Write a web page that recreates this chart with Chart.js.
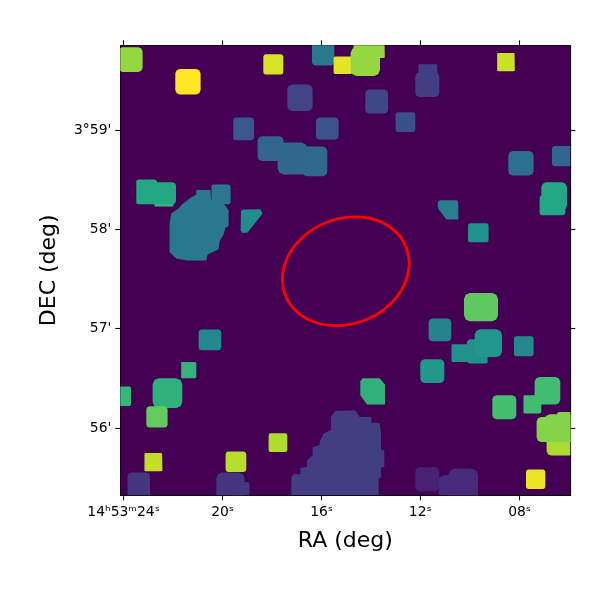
<!DOCTYPE html>
<html>
<head>
<meta charset="utf-8">
<style>body{margin:0;background:#fff}</style>
<script src="https://cdn.jsdelivr.net/npm/chart.js@4"></script>
</head>
<body>
<canvas id="myChart" width="600" height="600"></canvas>
<script>
// image axes: cutout pixels, x from the left edge, y from the top edge
const xTicks = [3.3, 102.3, 201.3, 300, 399.3];
const xTickLabels = ['14ʰ53ᵐ24ˢ', '20ˢ', '16ˢ', '12ˢ', '08ˢ'];
const yTicks = [85.3, 184, 283.3, 383.3];
const yTickLabels = ["3°59'", "58'", "57'", "56'"];

// rounded sources, painted in this order (those past 0 or 450 are cut by the frame)
const rectX0 = [-2, 55, 143, 112.7, 137.3, 157.3, 182, 191.7, 213.3, 230.3, 233, 167, 245, 195.7, 275.3, 298, 295, 376.7, 388, 431.7, 421, 419.3, 34, 15.7, 30, 91, 78.3, 347.7, 343.7, 308.3, 331, 346.7, 354.3, 393.7, 300, 414.3, 403, 372, 426.3, 416.3, 424, 436.7, 405.7, 295, 318.3, 328, 60.7, 32.3, -6, 26, 24, 105.3, 7.3, 96, 110, 148.3];
const rectX1 = [22.3, 80.3, 163, 133.7, 163.3, 187.3, 207, 214, 231.7, 259.7, 264.7, 192.3, 267.7, 218.3, 295, 317.3, 319, 394.7, 413.3, 456, 446.7, 445, 53.3, 37, 55.7, 110.3, 101, 368.3, 377.7, 331, 358, 367.7, 381.7, 413.3, 324, 440, 421, 396, 456, 456, 456, 456, 425, 319, 357.7, 357.7, 76, 62, 10.7, 47.3, 42.3, 126, 29.7, 124.3, 129.3, 167];
const rectY0 = [2, 23.7, 9, 72.3, 91, 97.3, 101.3, -6, 11.3, 1.7, -6, 39.3, 44.3, 72.3, 67, 19, 27, 7.7, 105.7, 100.7, 137, 150, 155, 134.3, 137, 139.3, 284.3, 178, 247.7, 273.3, 299, 294, 284, 291, 314, 331.7, 350, 350, 385, 371.7, 369, 366.7, 424.3, 422, 430, 423.3, 316.7, 333, 341.3, 361, 407.7, 406.3, 427.3, 427.3, 436.7, 388];
const rectY1 = [26.7, 49.3, 29.3, 95, 115.7, 129.3, 131, 20.3, 28.7, 30.7, 12.7, 65.7, 68.3, 94.3, 86.7, 35, 51.7, 26, 130.3, 121, 165, 170, 161.3, 159, 159, 159, 305, 197, 276, 296, 316.7, 318.3, 311.7, 311, 337.7, 359.3, 368.3, 374, 410.3, 396.7, 396.7, 396.7, 443.7, 446, 456, 456, 333, 362.7, 360.7, 382.3, 426, 426.7, 456, 456, 456, 406.7];
const rectLevel = [0.84, 1, 0.94, 0.27, 0.32, 0.33, 0.34, 0.4, 0.96, 0.84, 0.84, 0.2, 0.21, 0.25, 0.24, 0.18, 0.18, 0.92, 0.36, 0.33, 0.6, 0.6, 0.68, 0.6, 0.6, 0.4, 0.47, 0.5, 0.75, 0.44, 0.5, 0.5, 0.52, 0.47, 0.53, 0.69, 0.69, 0.7, 0.87, 0.815, 0.815, 0.815, 0.97, 0.09, 0.12, 0.12, 0.65, 0.64, 0.66, 0.76, 0.905, 0.89, 0.16, 0.16, 0.16, 0.88];

// irregular sources
const bigTealX = [76, 90, 91, 101.7, 108.3, 108.3, 105, 103.3, 99.3, 98.3, 87.3, 86, 66.7, 55.7, 49.3, 49.3, 51, 58.3, 61.7, 70, 76];
const bigTealY = [144.7, 144.7, 155, 156, 165, 180.7, 182.7, 189.3, 196, 204, 209.3, 215.3, 215.3, 213.3, 206.7, 178.3, 168.3, 163.3, 159.3, 152.7, 149.3];
const wedgeX = [120.7, 122.7, 140, 142.3, 127.3, 122, 120.3];
const wedgeY = [166, 164.3, 164, 168.3, 187.3, 187.7, 185];
const notchX = [317.3, 319.3, 336.7, 338, 338, 326, 317.7];
const notchY = [157.3, 155, 155, 157.3, 174.3, 174.3, 163.3];
const cutX = [240, 242.3, 259.3, 264.7, 264.7, 246.7, 240];
const cutY = [336, 333, 333, 339.3, 359.3, 359.3, 350];
const bigPurpleX = [171, 171, 173.3, 180, 180, 186, 186.7, 192.3, 192.3, 199.3, 199.3, 203.3, 210.7, 210.7, 215, 235, 239.3, 251, 251, 259.3, 260.7, 260.7, 264, 264, 260.7, 260.7, 258.3, 258.3];
const bigPurpleY = [450.3, 431.7, 429, 429, 422.7, 421.7, 415, 410, 401.7, 400, 396.7, 388.3, 385, 371.7, 365.7, 365, 371.7, 371.7, 377.3, 377.7, 387.3, 405, 405, 421.7, 422.7, 431.7, 433.3, 450.3];
const polyX = [bigTealX, wedgeX, notchX, cutX, bigPurpleX];
const polyY = [bigTealY, wedgeY, notchY, cutY, bigPurpleY];
const polyLevel = [0.4, 0.48, 0.42, 0.64, 0.18];

// red aperture, going round with a small overlap so the join is smooth
const ellipseX = [286.8, 289, 286.8, 280.5, 270.4, 257.3, 241.9, 225.5, 209.1, 193.8, 180.6, 170.5, 164.2, 162, 164.2, 170.5, 180.6, 193.8, 209.1, 225.5, 241.9, 257.3, 270.4, 280.5, 286.8, 289, 286.8];
const ellipseY = [204.3, 218, 232.2, 246, 258.5, 268.7, 276, 279.9, 280.1, 276.7, 269.8, 259.9, 247.7, 234, 219.8, 206, 193.6, 183.3, 176, 172.1, 171.9, 175.3, 182.2, 192.1, 204.3, 218, 232.2];

const viridis = [[68,1,84],[72,36,117],[65,68,135],[53,95,141],[42,120,142],[33,145,140],[34,168,132],[68,191,112],[122,209,81],[189,223,38],[253,231,37]];

function levelColor(v){
    const p = Math.min(v * 10, 9.999);
    const i = Math.floor(p);
    const c = viridis[i].map((a, k) => Math.round(a + (viridis[i + 1][k] - a) * (p - i)));
    return `rgb(${c[0]},${c[1]},${c[2]})`;
}

function area(points, level){
    return {
        data: points,
        showLine: true,
        fill: 'shape',
        backgroundColor: levelColor(level),
        borderColor: levelColor(level),
        borderWidth: 0,
        pointRadius: 0
    };
}

// small sources have tighter corners than big ones
function rounded(x0, x1, y0, y1){
    const r = Math.max(1.5, Math.min(6, (Math.min(x1 - x0, y1 - y0) - 14) * 0.4));
    const k = r * 0.3;
    return [
        {x: x0 + r, y: y0}, {x: x1 - r, y: y0}, {x: x1 - k, y: y0 + k}, {x: x1, y: y0 + r},
        {x: x1, y: y1 - r}, {x: x1 - k, y: y1 - k}, {x: x1 - r, y: y1}, {x: x0 + r, y: y1},
        {x: x0 + k, y: y1 - k}, {x: x0, y: y1 - r}, {x: x0, y: y0 + r}, {x: x0 + k, y: y0 + k}
    ];
}

function pairs(xs, ys){
    return xs.map((x, i) => ({x: x, y: ys[i]}));
}

const datasets = [area(pairs([0, 450, 450, 0], [0, 0, 450, 450]), 0)];
rectX0.forEach((x0, i) => {
    datasets.push(area(rounded(x0, rectX1[i], rectY0[i], rectY1[i]), rectLevel[i]));
});
polyX.forEach((xs, i) => {
    datasets.push(area(pairs(xs, polyY[i]), polyLevel[i]));
});
datasets.push({
    data: pairs(ellipseX, ellipseY),
    showLine: true,
    fill: false,
    tension: 0.4,
    borderColor: '#ff0000',
    borderWidth: 2.8,
    pointRadius: 0
});
// chart.js paints the last dataset first
datasets.reverse();

const tickFont = {family: 'DejaVu Sans', size: 13.9};
const titleFont = {family: 'DejaVu Sans', size: 22};

function axis(position, list, labels, size, extra){
    return Object.assign({
        type: 'linear',
        position: position,
        display: true,
        min: 0,
        max: 450,
        afterBuildTicks: s => { s.ticks = list.map(v => ({value: v})); },
        afterFit: s => {
            if (s.isHorizontal()) s.height = size; else s.width = size;
        },
        border: {display: true, color: '#000', width: 1.1},
        grid: {drawOnChartArea: false, drawTicks: true, tickLength: 5, tickColor: '#000', tickWidth: 1.1},
        ticks: {
            display: labels !== null,
            autoSkip: false,
            maxRotation: 0,
            color: '#000',
            font: tickFont,
            padding: 4,
            callback: (v, i) => labels ? labels[i] : ''
        }
    }, extra || {});
}

new Chart(document.getElementById('myChart').getContext('2d'), {
    type: 'scatter',
    data: {datasets: datasets},
    options: {
        responsive: false,
        animation: false,
        devicePixelRatio: 1,
        layout: {padding: 0},
        plugins: {legend: {display: false}, tooltip: {enabled: false}},
        scales: {
            x: axis('bottom', xTicks, xTickLabels, 104.7, {
                title: {display: true, text: 'RA (deg)', color: '#000', font: titleFont, padding: {top: 0, bottom: 46}}
            }),
            y: axis('left', yTicks, yTickLabels, 120.3, {
                reverse: true,
                title: {display: true, text: 'DEC (deg)', color: '#000', font: titleFont, padding: {top: 36, bottom: 0}}
            }),
            xTop: axis('top', xTicks, null, 45.3),
            yRight: axis('right', yTicks, null, 29.7, {reverse: true})
        }
    }
});
</script>
</body>
</html>
